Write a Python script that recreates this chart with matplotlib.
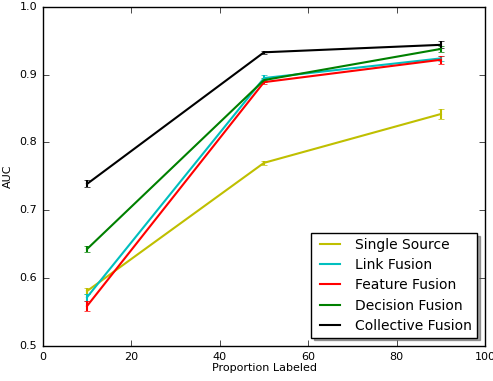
import matplotlib
matplotlib.use("Agg")
import matplotlib.pyplot as plt
from matplotlib.lines import Line2D

plt.style.use("classic")

proportion = [10, 50, 90]
single_source = [0.581, 0.770, 0.842]
single_err = [0.004, 0.003, 0.008]
link_fusion = [0.572, 0.895, 0.924]
link_err = [0.005, 0.005, 0.004]
feature_fusion = [0.559, 0.889, 0.922]
feature_err = [0.007, 0.003, 0.006]
decision_fusion = [0.643, 0.892, 0.938]
decision_err = [0.004, 0.003, 0.004]
collective_fusion = [0.739, 0.933, 0.944]
collective_err = [0.005, 0.002, 0.005]

series = [
    ("Single Source", single_source, single_err, "y"),
    ("Link Fusion", link_fusion, link_err, "c"),
    ("Feature Fusion", feature_fusion, feature_err, "r"),
    ("Decision Fusion", decision_fusion, decision_err, "g"),
    ("Collective Fusion", collective_fusion, collective_err, "k"),
]

fig = plt.figure(figsize=(4.93, 3.81), dpi=100, facecolor="white")
ax = fig.add_axes([0.087, 0.092, 0.897, 0.890])

handles = []
for name, vals, err, col in series:
    ax.errorbar(proportion, vals, yerr=err, color=col, ecolor=col,
                linewidth=1.5, capsize=2, elinewidth=1.5)
    handles.append(Line2D([], [], color=col, linewidth=1.5, label=name))

ax.set_xlim(0, 100)
ax.set_ylim(0.5, 1.0)
ax.set_xticks([0, 20, 40, 60, 80, 100])
ax.set_yticks([0.5, 0.6, 0.7, 0.8, 0.9, 1.0])
ax.tick_params(labelsize=8)
ax.set_xlabel("Proportion Labeled", fontsize=8, labelpad=1)
ax.set_ylabel("AUC", fontsize=8)

ax.legend(handles=handles, loc="lower right", fontsize=10, shadow=True,
          fancybox=False, handlelength=2.0, labelspacing=0.45,
          borderpad=0.35, borderaxespad=0.6)

fig.savefig("out.png", dpi=100, facecolor="white")
